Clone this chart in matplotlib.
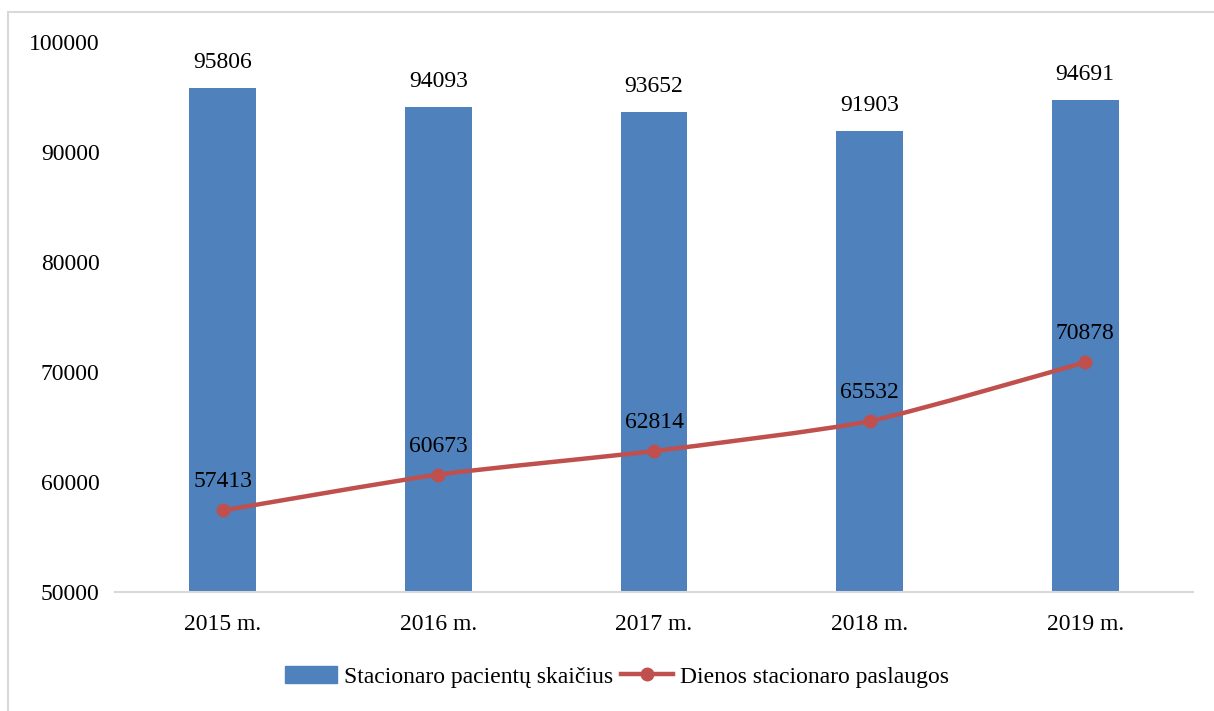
import numpy as np
import matplotlib
matplotlib.use("Agg")
import matplotlib.pyplot as plt
from matplotlib.path import Path
from matplotlib.patches import PathPatch, Rectangle
from matplotlib.lines import Line2D

years = ["2015 m.", "2016 m.", "2017 m.", "2018 m.", "2019 m."]
inpatients = [95806, 94093, 93652, 91903, 94691]
day_services = [57413, 60673, 62814, 65532, 70878]
bar_label = "Stacionaro pacientų skaičius"
line_label = "Dienos stacionaro paslaugos"

blue = "#4F81BD"
red = "#C0504D"

plt.rcParams["font.family"] = ["Liberation Serif", "DejaVu Serif"]

fig = plt.figure(figsize=(12.14, 7.11), dpi=100)
W, H = 1214, 711
ax = fig.add_axes([115 / W, 1 - 592 / H, 1078 / W, 550 / H])

# light frame around the chart area
fig.patches.append(Rectangle((8 / W, -0.05), 1.1, 1 - 12 / H + 0.05,
                             transform=fig.transFigure, fill=False,
                             edgecolor="#D9D9D9", linewidth=1.5))

x = np.arange(len(years))
ax.bar(x, inpatients, width=0.31, color=blue, zorder=2)
for xi, v in zip(x, inpatients):
    ax.annotate(str(v), (xi, v), xytext=(0, 11), textcoords="offset points",
                ha="center", va="bottom", fontsize=17)

# lightly smoothed line, control points derived from the data
xs = x.astype(float)
ys = np.array(day_services, dtype=float)
verts = [(xs[0], ys[0])]
codes = [Path.MOVETO]
n = len(xs)
for i in range(n - 1):
    p0 = np.array([xs[max(i - 1, 0)], ys[max(i - 1, 0)]])
    p1 = np.array([xs[i], ys[i]])
    p2 = np.array([xs[i + 1], ys[i + 1]])
    p3 = np.array([xs[min(i + 2, n - 1)], ys[min(i + 2, n - 1)]])
    c1 = p1 + (p2 - p0) / 10
    c2 = p2 - (p3 - p1) / 10
    verts += [tuple(c1), tuple(c2), tuple(p2)]
    codes += [Path.CURVE4] * 3
ax.add_patch(PathPatch(Path(verts, codes), facecolor="none", edgecolor=red,
                       linewidth=3.2, zorder=3, capstyle="round"))
ax.plot(xs, ys, linestyle="none", marker="o", markersize=9, color=red, zorder=4)
for xi, v in zip(x, day_services):
    ax.annotate(str(v), (xi, v), xytext=(0, 13), textcoords="offset points",
                ha="center", va="bottom", fontsize=17)

ax.set_xlim(-0.5, len(years) - 0.5)
ax.set_ylim(50000, 100000)
ax.set_yticks(np.arange(50000, 100001, 10000))
ax.set_xticks(x)
ax.set_xticklabels(years)
ax.tick_params(axis="both", length=0, labelsize=17, colors="#000000")
ax.tick_params(axis="y", pad=11)
ax.tick_params(axis="x", pad=16)
for s in ["left", "right", "top"]:
    ax.spines[s].set_visible(False)
ax.spines["bottom"].set_color("#D9D9D9")
ax.spines["bottom"].set_linewidth(1.5)

handles = [Rectangle((0, 0), 1, 1, color=blue),
           Line2D([0], [0], color=red, linewidth=3.2, marker="o", markersize=9)]
fig.legend(handles, [bar_label, line_label], loc="center",
           bbox_to_anchor=(617 / W, 1 - 677 / H), ncol=2, frameon=False,
           fontsize=17, handlelength=2.2, handletextpad=0.3, columnspacing=0.3)

fig.savefig("out.png", dpi=100)
